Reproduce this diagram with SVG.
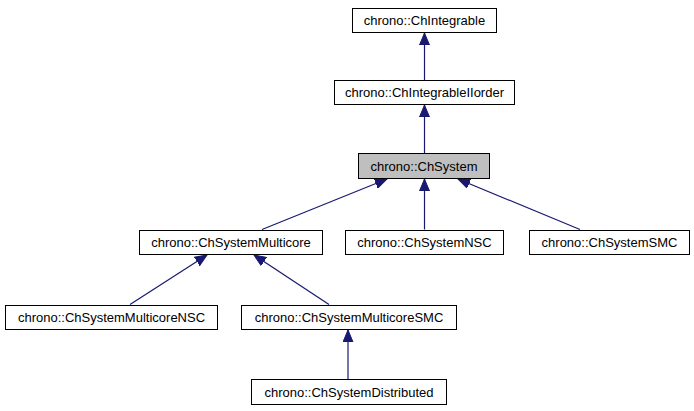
<svg xmlns="http://www.w3.org/2000/svg" width="694" height="411" viewBox="0 0 694 411">
<style>
.node rect{fill:#ffffff;stroke:#000000;stroke-width:1}
.node.cur rect{fill:#bfbfbf}
.node text{font-family:"Liberation Sans",Arial,sans-serif;font-size:13px;text-anchor:middle;fill:#000000}
.edge{fill:none;stroke:#191970;stroke-width:1.2;marker-end:url(#arr)}
</style>
<defs>
<marker id="arr" markerUnits="userSpaceOnUse" markerWidth="13" markerHeight="11" refX="12" refY="5.5" orient="auto">
<path d="M0,0.5 L12,5.5 L0,10.5 z" fill="#191970" stroke="#191970" stroke-width="1"/>
</marker>
</defs>
<rect width="694" height="411" fill="#ffffff"/>
<g id="edges">
<path class="edge" d="M424.5,80 L424.5,33"/>
<path class="edge" d="M424.5,153 L424.5,105"/>
<path class="edge" d="M262,229.5 L387,179"/>
<path class="edge" d="M424.5,229.5 L424.5,179"/>
<path class="edge" d="M580,229.5 L458,179"/>
<path class="edge" d="M130,304.5 L207,255"/>
<path class="edge" d="M329,304.5 L254,255"/>
<path class="edge" d="M348,379.5 L348,330"/>
</g>
<g id="n1" class="node"><rect x="352.5" y="8.5" width="144" height="24"/><text x="424.5" y="25">chrono::ChIntegrable</text></g>
<g id="n2" class="node"><rect x="334.5" y="80.5" width="180" height="24"/><text x="424.5" y="97">chrono::ChIntegrableIIorder</text></g>
<g id="n3" class="node cur"><rect x="358.5" y="153.5" width="131" height="25"/><text x="424" y="170.5">chrono::ChSystem</text></g>
<g id="n4" class="node"><rect x="139.5" y="230.5" width="183" height="24"/><text x="231" y="247">chrono::ChSystemMulticore</text></g>
<g id="n5" class="node"><rect x="345.5" y="230.5" width="158" height="24"/><text x="424.5" y="247">chrono::ChSystemNSC</text></g>
<g id="n6" class="node"><rect x="529.5" y="230.5" width="160" height="24"/><text x="609.5" y="247">chrono::ChSystemSMC</text></g>
<g id="n7" class="node"><rect x="5.5" y="305.5" width="212" height="24"/><text x="111.5" y="322">chrono::ChSystemMulticoreNSC</text></g>
<g id="n8" class="node"><rect x="241.5" y="305.5" width="215" height="24"/><text x="349" y="322">chrono::ChSystemMulticoreSMC</text></g>
<g id="n9" class="node"><rect x="251.5" y="379.5" width="195" height="25"/><text x="349" y="396.5">chrono::ChSystemDistributed</text></g>
</svg>
